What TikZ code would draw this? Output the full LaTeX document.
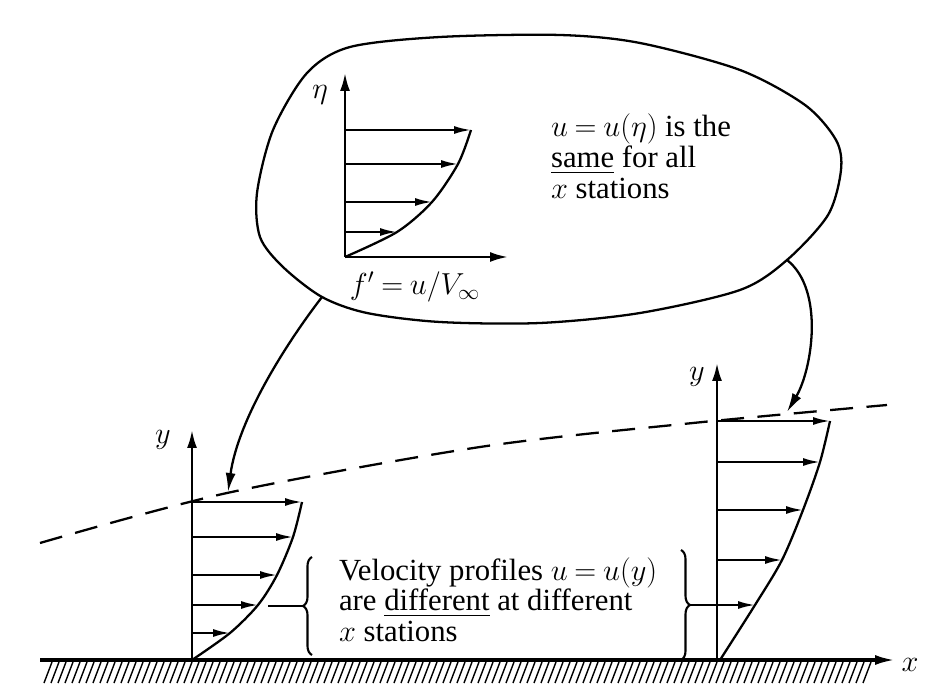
\documentclass[tikz,border=0pt]{standalone}
\usepackage{amsmath}
\usepackage{fontspec}
\setmainfont{Liberation Serif}
\usetikzlibrary{arrows.meta, positioning, calc, decorations.pathreplacing}

\begin{document}
\begin{tikzpicture}[
  x=0.02cm, y=-0.02cm,
  >={Latex[length=3.4mm, width=1.6mm]}, line width=1.2pt,
  axis/.style = {-{Latex[length=3.6mm, width=2mm]}, line width=1.4pt},
  vel/.style  = {->, line width=1.2pt},
  prof/.style = {line width=1.3pt},
  jump/.style = {-{Latex[length=3.8mm, width=2mm]}, line width=1.3pt},
  edge/.style = {line width=1.3pt, dash pattern=on 0.46cm off 0.27cm},
  brc/.style  = {decorate, decoration={brace, amplitude=0.18cm}, line width=1.2pt},
  lbl/.style  = {font={\fontsize{17.5}{17.6}\selectfont\thickmuskip=4mu\relax}, inner sep=0pt},
]
  \useasboundingbox (0,0) rectangle (932,688);

  \coordinate (O) at (345,257);   % similarity plane
  \coordinate (A) at (192,660);   % upstream station
  \coordinate (B) at (717,660);   % downstream station

  % bubble
  \draw[prof] plot[smooth cycle] coordinates {
    (350,47) (440,37) (560,35) (640,43) (740,70) (805,105) (836,140) (841,170)
    (828,215) (787,260) (740,290) (640,313) (540,323) (440,322) (367,313)
    (322,297) (283,267) (260,237) (257,193) (273,130) (307,73)};
  \coordinate (bl) at (322,297);
  \coordinate (br) at (787,260);

  \draw[axis] (O) -- ++(0,-184);
  \draw[axis] (O) -- ++(163,0);
  \node[lbl] (eta) at (320,95)  {$\eta$};
  \node[lbl] (fp)  at (415,287) {$f' = u/V_\infty$};
  \begin{scope}[shift={(O)}]
    \draw[prof] plot[smooth] coordinates {(0,0) (52,-25) (87,-55) (113,-93) (126,-127)};
    \foreach \h/\u in {25/52, 55/87, 93/113, 127/126}
      \draw[vel] (0,-\h) -- (\u,-\h);
  \end{scope}
  \node[lbl, anchor=base west] (same) at (550,137)
    {\begin{tabular}[t]{@{}l@{}}$u = u(\eta)$ is the\\ \underline{same} for all\\ $x$ stations\end{tabular}};

  % wall
  \draw[line width=1.8pt, -{Latex[length=4mm, width=2mm]}] (40,660) -- (895,660) coordinate (xend);
  \foreach \hx in {44,51,...,866}
    \draw[line width=0.8pt] (\hx,683) -- (\hx+8,662);
  \node[lbl] (xlab) at (910,665) {$x$};

  % edge of the boundary layer
  \draw[edge] plot[smooth] coordinates {(40,543) (227,493) (480,447) (693,423) (887,405)};

  % station 1
  \draw[axis] (A) -- ++(0,-230);
  \node[lbl] (y1) at (163,440) {$y$};
  \begin{scope}[shift={(A)}]
    \draw[prof] plot[smooth] coordinates {(0,0) (38,-27) (66,-55) (85,-85) (101,-123) (110,-158)};
    \foreach \h/\u in {27/38, 55/66, 85/85, 123/101, 158/110}
      \draw[vel] (0,-\h) -- (\u,-\h);
  \end{scope}

  % station 2
  \draw[axis] (B) -- ++(0,-297);
  \node[lbl] (y2) at (697,377) {$y$};
  \begin{scope}[shift={(B)}]
    \draw[prof] plot[smooth] coordinates {(3,0) (38,-55) (65,-100) (86,-150) (103,-198) (113,-239)};
    \foreach \h/\u in {55/38, 100/65, 150/86, 198/103, 239/113}
      \draw[vel] (0,-\h) -- (\u,-\h);
  \end{scope}

  \node[lbl, anchor=base west] (diff) at (338,580)
    {\begin{tabular}[t]{@{}l@{}}Velocity profiles $u = u(y)$\\ are \underline{different} at different\\ $x$ stations\end{tabular}};

  \draw[brc] (312,655) -- (312,557);
  \coordinate (lb) at (303,606);
  \coordinate (lc) at (268,606);
  \draw[prof] (lc) -- (lb);
  \draw[brc] (681,550) -- (681,660);
  \coordinate (rb) at (690,605);
  \draw[prof] (rb) -- (B |- rb);

  \coordinate (t1) at (228,492);
  \coordinate (t2) at (787,412);
  \draw[jump] (bl) .. controls (285,345) and (238,420) .. (t1);
  \draw[jump] (br) .. controls (825,290) and (812,370) .. (t2);
\end{tikzpicture}
\end{document}
